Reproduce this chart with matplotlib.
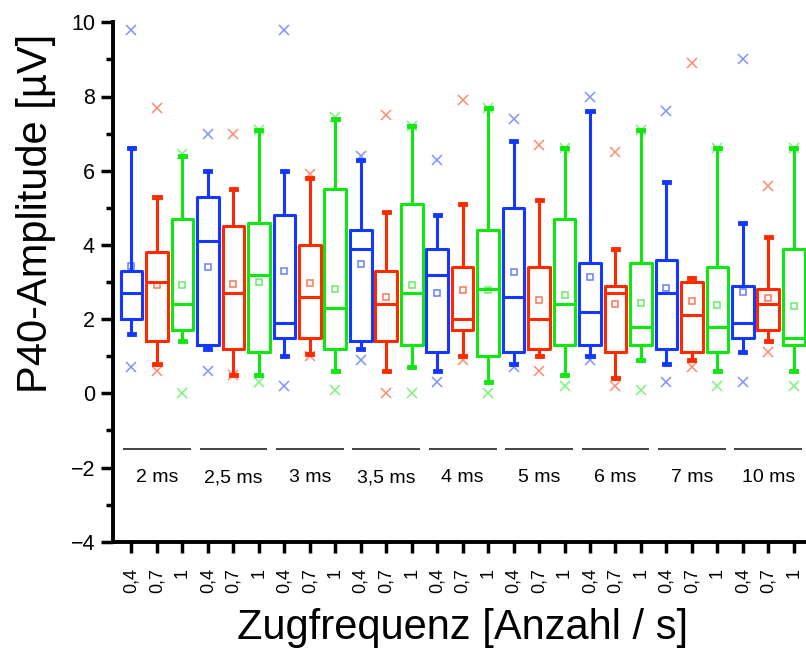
import matplotlib
matplotlib.use("Agg")
import matplotlib.pyplot as plt
import numpy as np
from matplotlib.ticker import MultipleLocator

plt.rcParams['font.family'] = ['Liberation Sans', 'DejaVu Sans']

groups = ["2 ms", "2,5 ms", "3 ms", "3,5 ms", "4 ms", "5 ms", "6 ms", "7 ms", "10 ms"]
freqs = ["0,4", "0,7", "1"]

max_x = [9.8, 7.7, 6.45, 7.0, 7.0, 7.1, 9.8, 5.9, 7.45, 6.4, 7.5, 7.2, 6.3, 7.9, 7.7, 7.4, 6.7, 6.6,
         8.0, 6.5, 7.1, 7.6, 8.9, 6.6, 9.0, 5.6, 6.6]
whishi = [6.6, 5.3, 6.4, 6.0, 5.5, 7.1, 6.0, 5.8, 7.4, 6.3, 4.9, 7.2, 4.8, 5.1, 7.7, 6.8, 5.2, 6.6,
          7.6, 3.9, 7.1, 5.7, 3.1, 6.6, 4.6, 4.2, 6.6]
q3 = [3.3, 3.8, 4.7, 5.3, 4.5, 4.6, 4.8, 4.0, 5.5, 4.4, 3.3, 5.1, 3.9, 3.4, 4.4, 5.0, 3.4, 4.7,
      3.5, 2.9, 3.5, 3.6, 3.0, 3.4, 2.9, 2.8, 3.9]
med = [2.7, 3.0, 2.4, 4.1, 2.7, 3.2, 1.9, 2.6, 2.3, 3.9, 2.4, 2.7, 3.2, 2.0, 2.8, 2.6, 2.0, 2.4,
       2.2, 2.7, 1.8, 2.7, 2.1, 1.8, 1.9, 2.4, 1.5]
q1 = [2.0, 1.4, 1.7, 1.3, 1.2, 1.1, 1.5, 1.5, 1.2, 1.4, 1.4, 1.3, 1.1, 1.7, 1.0, 1.1, 1.2, 1.3,
      1.3, 1.1, 1.3, 1.2, 1.1, 1.1, 1.5, 1.7, 1.3]
whislo = [1.6, 0.8, 1.4, 1.2, 0.5, 0.5, 1.0, 1.05, 0.6, 1.2, 0.6, 0.7, 0.6, 1.0, 0.3, 0.8, 1.0, 0.5,
          1.0, 0.4, 0.9, 0.8, 0.9, 0.6, 1.1, 1.4, 0.6]
min_x = [0.7, 0.6, 0.0, 0.6, 0.5, 0.3, 0.2, 1.0, 0.1, 0.9, 0.0, 0.0, 0.3, 0.9, 0.0, 0.7, 0.6, 0.2,
         0.9, 0.2, 0.1, 0.3, 0.7, 0.2, 0.3, 1.1, 0.2]
mean = [3.43, 2.92, 2.92, 3.40, 2.94, 3.0, 3.3, 2.97, 2.8, 3.48, 2.6, 2.92, 2.71, 2.79, 2.78, 3.28, 2.52, 2.65,
        3.14, 2.4, 2.43, 2.85, 2.5, 2.39, 2.73, 2.58, 2.34]

colors = ['#1438FF', '#FF2A00', '#10E610']

fig = plt.figure(figsize=(8.06, 6.51), dpi=100)
ax = fig.add_axes([113/806, 1 - 541.7/651, 693/806, (541.7 - 22.3)/651])

n = len(med)
positions = np.arange(1, n + 1)

for k, col in enumerate(colors):
    idx = list(range(k, n, 3))
    stats = []
    for i in idx:
        stats.append(dict(med=med[i], q1=q1[i], q3=q3[i], whislo=whislo[i], whishi=whishi[i],
                          mean=mean[i], fliers=[]))
    lw = 2.2
    ax.bxp(stats, positions=positions[idx], widths=0.85, capwidths=0.2,
           showmeans=True, showfliers=False, patch_artist=False,
           boxprops=dict(color=col, linewidth=lw),
           whiskerprops=dict(color=col, linewidth=lw),
           capprops=dict(color=col, linewidth=3.5),
           medianprops=dict(color=col, linewidth=lw),
           meanprops=dict(marker='s', markerfacecolor='none', markeredgecolor=col,
                          markersize=5, markeredgewidth=1.1, alpha=0.65))
    ax.plot(positions[idx], [max_x[i] for i in idx], ls='none', marker='x', color=col,
            markersize=6.5, markeredgewidth=1.1, alpha=0.55)
    ax.plot(positions[idx], [min_x[i] for i in idx], ls='none', marker='x', color=col,
            markersize=6.5, markeredgewidth=1.1, alpha=0.55)

# group separators and labels
for g, name in enumerate(groups):
    start = 3 * g + 1
    ax.hlines(-1.5, start - 0.33, start + 2 + 0.33, color='#222222', linewidth=1.2)
    ax.text(start + 1, -2.27, name, ha='center', va='center', fontsize=14)

ax.set_xlim(0.274, 27.48)
ax.set_ylim(-4, 10)

ax.set_xticks(positions)
ax.set_xticklabels([freqs[i % 3] for i in range(n)], rotation=90, fontsize=13)
ax.yaxis.set_major_locator(MultipleLocator(2))
ax.yaxis.set_minor_locator(MultipleLocator(1))
ax.tick_params(axis='y', which='major', direction='out', length=9, width=2.5, labelsize=15.5, pad=4)
ax.tick_params(axis='y', which='minor', direction='out', length=5, width=2.5)
ax.tick_params(axis='x', which='major', direction='out', length=8, width=2.5, pad=11)

for s in ['top', 'right']:
    ax.spines[s].set_visible(False)
for s in ['left', 'bottom']:
    ax.spines[s].set_linewidth(2.8)

ax.set_ylabel("P40-Amplitude [µV]", fontsize=30)
ax.yaxis.set_label_coords(-0.082, 0.633)
ax.set_xlabel("Zugfrequenz [Anzahl / s]", fontsize=30)
ax.xaxis.set_label_coords(0.504, -0.128)

fig.savefig("out.png", dpi=100)
